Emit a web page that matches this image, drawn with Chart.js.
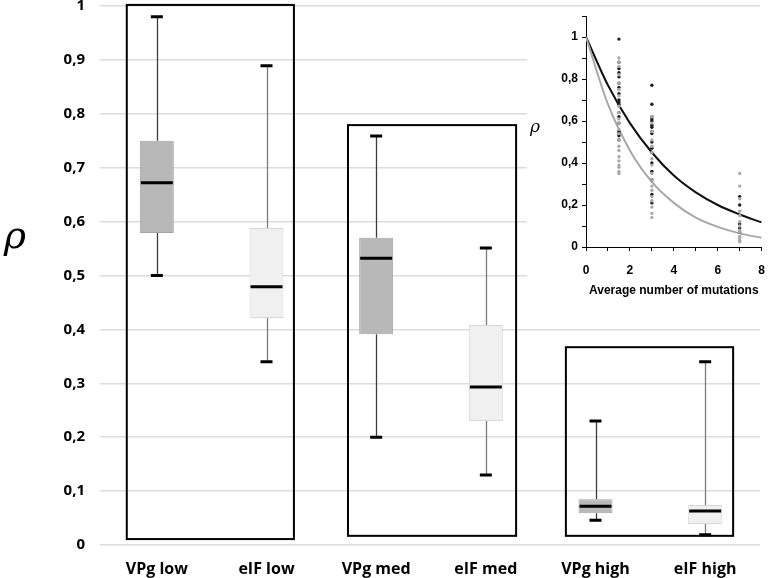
<!DOCTYPE html>
<html>
<head>
<meta charset="utf-8">
<script src="https://cdn.jsdelivr.net/npm/chart.js@4.4.0/dist/chart.umd.min.js"></script>
<style>
    html, body { margin: 0; padding: 0; background: #fff; }
    #wrap { position: relative; width: 777px; height: 578px; }
    #main { position: absolute; left: 0; top: 0; }
    #inset { position: absolute; left: 527px; top: 10px; background: #fff; }
</style>
</head>
<body>
<div id="wrap">
    <canvas id="main" width="777" height="578"></canvas>
    <canvas id="inset" width="250" height="290"></canvas>
</div>
<script>
// ---- main box plot data ----
const categories = ['VPg low', 'eIF low', 'VPg med', 'eIF med', 'VPg high', 'eIF high'];
const whiskerMin = [0.50, 0.34, 0.20, 0.13, 0.046, 0.019];
const quartile1  = [0.579, 0.421, 0.391, 0.23, 0.059, 0.039];
const medians    = [0.672, 0.479, 0.532, 0.293, 0.072, 0.063];
const quartile3  = [0.75, 0.588, 0.57, 0.408, 0.085, 0.074];
const whiskerMax = [0.98, 0.889, 0.759, 0.551, 0.23, 0.34];
const yTicks = [0, 0.1, 0.2, 0.3, 0.4, 0.5, 0.6, 0.7, 0.8, 0.9, 1];

// group frames, in category-index / rho units
const frameFrom = [-0.274, 1.743, 3.73];
const frameTo   = [1.25, 3.276, 5.255];
const frameLow  = [0.011, 0.017, 0.017];
const frameHigh = [1.002, 0.779, 0.367];

// ---- inset data ----
const mutationLevels = [1.5, 3, 7];
const vpgRho = [
    [0.99, 0.88, 0.85, 0.83, 0.81, 0.78, 0.76, 0.73, 0.70, 0.69, 0.68, 0.64, 0.62, 0.59, 0.55, 0.54, 0.53, 0.51],
    [0.77, 0.68, 0.62, 0.61, 0.60, 0.58, 0.57, 0.55, 0.54, 0.50, 0.47, 0.45, 0.40, 0.36, 0.32, 0.25, 0.21],
    [0.24, 0.20, 0.11, 0.09, 0.07]
];
const eifRho = [
    [0.90, 0.88, 0.86, 0.82, 0.78, 0.75, 0.72, 0.67, 0.64, 0.61, 0.59, 0.56, 0.54, 0.51, 0.48, 0.46, 0.43, 0.41, 0.39, 0.38, 0.36, 0.35],
    [0.62, 0.59, 0.55, 0.51, 0.48, 0.45, 0.42, 0.39, 0.35, 0.32, 0.29, 0.27, 0.24, 0.22, 0.19, 0.16, 0.14],
    [0.35, 0.29, 0.23, 0.17, 0.15, 0.12, 0.10, 0.08, 0.07, 0.05, 0.04, 0.03, 0.025]
];
const fitX   = [0, 1, 2, 3, 4, 5, 6, 7, 8];
const fitVPg = [1, 0.77, 0.59, 0.45, 0.34, 0.26, 0.20, 0.155, 0.117];
const fitEIF = [1, 0.68, 0.46, 0.31, 0.21, 0.14, 0.096, 0.065, 0.044];

const commaFmt = v => String(Math.round(v * 10) / 10).replace('.', ',');
const isVPg = c => c.startsWith('VPg');

// whiskers, caps, medians and group frames on top of the floating bars
const boxExtras = {
    id: 'boxExtras',
    beforeDatasetsDraw(chart) {
        const { ctx, scales: { x, y } } = chart;
        ctx.save();
        categories.forEach((c, i) => {
            const cx = Math.round(x.getPixelForValue(i)) + 0.5;
            ctx.strokeStyle = isVPg(c) ? '#3c3c3c' : '#7c7c7c';
            ctx.lineWidth = 1.3;
            ctx.beginPath();
            ctx.moveTo(cx, y.getPixelForValue(whiskerMax[i]));
            ctx.lineTo(cx, y.getPixelForValue(quartile3[i]));
            ctx.moveTo(cx, y.getPixelForValue(quartile1[i]));
            ctx.lineTo(cx, y.getPixelForValue(whiskerMin[i]));
            ctx.stroke();
        });
        ctx.restore();
    },
    afterDatasetsDraw(chart) {
        const { ctx, scales: { x, y } } = chart;
        const meta = chart.getDatasetMeta(0);
        ctx.save();
        ctx.strokeStyle = '#000';
        categories.forEach((c, i) => {
            const cx = x.getPixelForValue(i);
            const half = meta.data[i].width / 2;
            ctx.lineWidth = 3;
            ctx.beginPath();
            // caps
            [whiskerMax[i], whiskerMin[i]].forEach(v => {
                const py = y.getPixelForValue(v);
                ctx.moveTo(cx - 6, py);
                ctx.lineTo(cx + 6, py);
            });
            // median
            const my = y.getPixelForValue(medians[i]);
            ctx.moveTo(cx - half + 1, my);
            ctx.lineTo(cx + half - 1, my);
            ctx.stroke();
        });
        // frames
        const step = x.getPixelForValue(1) - x.getPixelForValue(0);
        const xAt = v => x.getPixelForValue(0) + v * step;
        ctx.lineWidth = 2;
        frameFrom.forEach((f, k) => {
            const left = xAt(f), right = xAt(frameTo[k]);
            const top = y.getPixelForValue(frameHigh[k]), bottom = y.getPixelForValue(frameLow[k]);
            ctx.strokeRect(left, top, right - left, bottom - top);
        });
        // rho axis title
        ctx.fillStyle = '#000';
        ctx.font = 'italic 38px "DejaVu Serif"';
        ctx.textAlign = 'center';
        ctx.textBaseline = 'middle';
        ctx.fillText('ρ', 15, 238);
        ctx.restore();
    }
};

new Chart(document.getElementById('main'), {
    type: 'bar',
    data: {
        labels: categories,
        datasets: [{
            data: categories.map((c, i) => [quartile1[i], quartile3[i]]),
            backgroundColor: categories.map(c => isVPg(c) ? '#b8b8b8' : '#f0f0f0'),
            borderColor: categories.map(c => isVPg(c) ? '#a4a4a4' : '#d8d8d8'),
            borderWidth: 1,
            borderSkipped: false,
            barPercentage: 0.31,
            categoryPercentage: 1
        }]
    },
    options: {
        responsive: false,
        animation: false,
        layout: { padding: { left: 0, right: 17, top: 6, bottom: 0 } },
        plugins: { legend: { display: false }, tooltip: { enabled: false } },
        scales: {
            x: {
                grid: { display: false },
                border: { display: false },
                ticks: {
                    color: '#000',
                    padding: 7,
                    font: { family: 'Open Sans', size: 16, weight: 'bold' }
                },
                afterFit: s => { s.height = 33; s.paddingLeft = 0; s.paddingRight = 0; }
            },
            y: {
                min: 0,
                max: 1,
                afterBuildTicks: s => { s.ticks = yTicks.map(v => ({ value: v })); },
                grid: { color: '#dcdcdc', lineWidth: 1.5, drawTicks: true, tickLength: 2 },
                border: { display: false },
                ticks: {
                    color: '#000',
                    padding: 15,
                    font: { family: 'Open Sans', size: 15, weight: 'bold' },
                    callback: v => commaFmt(v)
                },
                afterFit: s => { s.width = 102; s.paddingTop = 0; s.paddingBottom = 0; }
            }
        }
    },
    plugins: [boxExtras]
});

// ---- inset: rho against number of mutations ----
const toPoints = rows => rows.flatMap((vals, k) => vals.map(v => ({ x: mutationLevels[k], y: v })));

const insetTitle = {
    id: 'insetTitle',
    afterDraw(chart) {
        const { ctx } = chart;
        ctx.save();
        ctx.fillStyle = '#000';
        ctx.font = 'italic 17px "DejaVu Serif"';
        ctx.textAlign = 'center';
        ctx.textBaseline = 'middle';
        ctx.fillText('ρ', 8, 118);
        ctx.restore();
    }
};

new Chart(document.getElementById('inset'), {
    type: 'scatter',
    data: {
        datasets: [
            { data: toPoints(eifRho), backgroundColor: '#a9a9a9', borderWidth: 0, pointRadius: 1.7 },
            { data: toPoints(vpgRho), backgroundColor: '#1c1c1c', borderWidth: 0, pointRadius: 1.7 },
            {
                data: fitX.map((v, i) => ({ x: v, y: fitEIF[i] })),
                showLine: true, borderColor: '#a8a8a8', borderWidth: 2,
                pointRadius: 0, cubicInterpolationMode: 'monotone'
            },
            {
                data: fitX.map((v, i) => ({ x: v, y: fitVPg[i] })),
                showLine: true, borderColor: '#111', borderWidth: 2,
                pointRadius: 0, cubicInterpolationMode: 'monotone'
            }
        ]
    },
    options: {
        responsive: false,
        animation: false,
        layout: { padding: { left: 0, right: 4, top: 6, bottom: 0 } },
        plugins: { legend: { display: false }, tooltip: { enabled: false } },
        scales: {
            x: {
                type: 'linear',
                min: 0,
                max: 8,
                grid: { drawOnChartArea: false, drawTicks: true, tickLength: 4, color: '#000' },
                border: { color: '#000', width: 1 },
                ticks: {
                    stepSize: 1,
                    autoSkip: false,
                    maxRotation: 0,
                    padding: 12,
                    color: '#000',
                    font: { family: 'Liberation Sans', size: 12, weight: 'bold' },
                    callback: v => (v % 2 === 0 ? String(v) : '')
                },
                title: {
                    display: true,
                    text: 'Average number of mutations',
                    color: '#000',
                    padding: { top: 2, bottom: 2 },
                    font: { family: 'Liberation Sans', size: 12, weight: 'bold' }
                },
                afterFit: s => { s.height = 53; }
            },
            y: {
                min: 0,
                max: 1.1,
                grid: { drawOnChartArea: false, drawTicks: true, tickLength: 4, color: '#000' },
                border: { color: '#000', width: 1 },
                ticks: {
                    stepSize: 0.1,
                    autoSkip: false,
                    padding: 4,
                    color: '#000',
                    font: { family: 'Liberation Sans', size: 12, weight: 'bold' },
                    callback: v => {
                        const t = Math.round(v * 10);
                        return (t % 2 === 0 && t <= 10) ? commaFmt(v) : '';
                    }
                },
                afterFit: s => { s.width = 59; s.paddingTop = 0; }
            }
        }
    },
    plugins: [insetTitle]
});
</script>
</body>
</html>
